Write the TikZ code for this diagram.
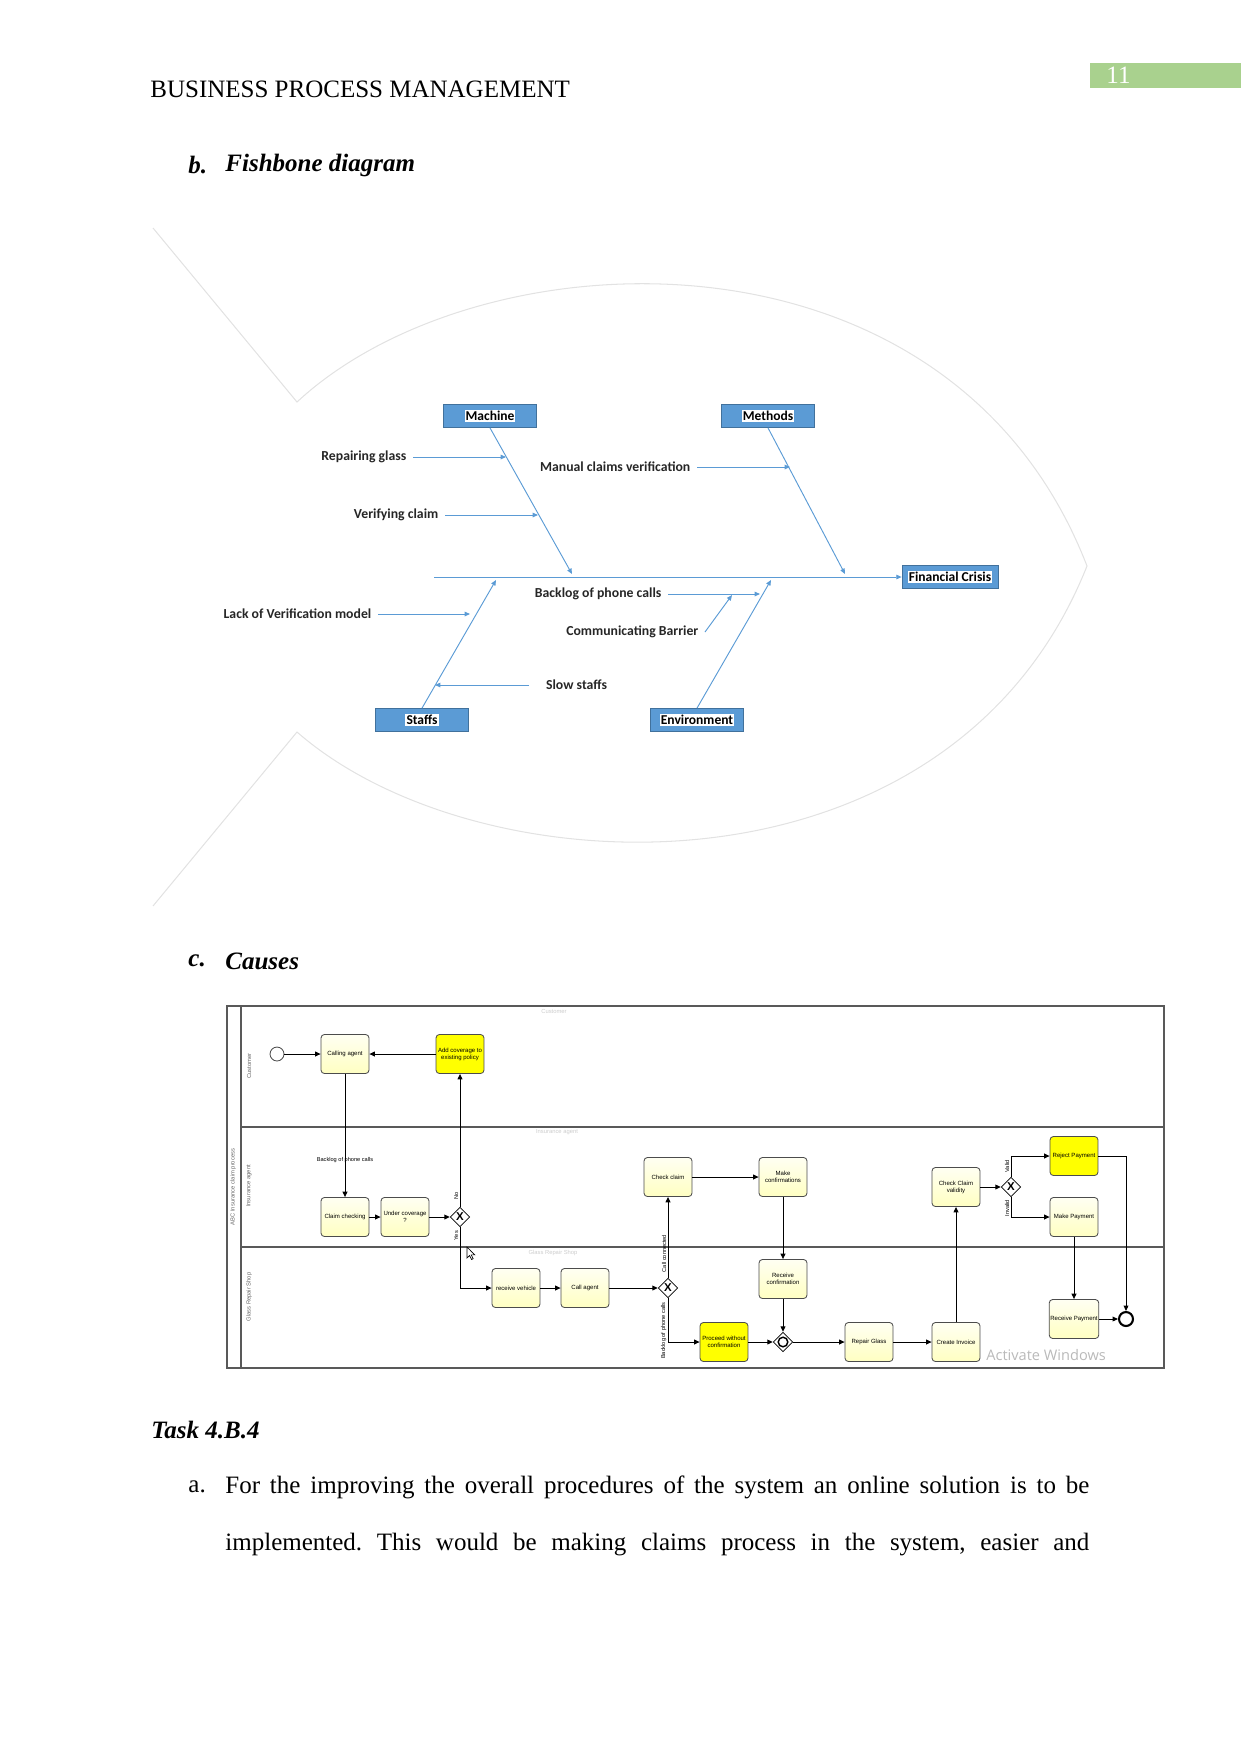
\documentclass[tikz,border=0pt]{standalone}
\usepackage{fontspec}
\setmainfont{Liberation Serif}
\newfontfamily\fishfont{Carlito}
\newfontfamily\flowfont{Liberation Sans}
\newfontfamily\winfont{Open Sans}
\usetikzlibrary{arrows.meta,positioning,calc,shapes.geometric}
\definecolor{boneblue}{HTML}{5B9BD5}
\definecolor{bonedark}{HTML}{41719C}
\definecolor{pagegreen}{HTML}{A9D18E}
\definecolor{fishline}{HTML}{E2E2E2}
\newcommand{\onwhite}[1]{{\setlength{\fboxsep}{0.5pt}\colorbox{white}{#1}}}
\frenchspacing

\begin{document}
\begin{tikzpicture}[x=0.48pt, y=-0.48pt,
  hdr/.style={anchor=west, inner sep=0pt, font=\fontsize{12}{14}\selectfont},
  subhd/.style={anchor=west, inner sep=0pt, font=\fontsize{12}{14}\selectfont\bfseries\itshape},
  bone/.style={rectangle, draw=bonedark, fill=boneblue, minimum width=45pt, minimum height=11pt, inner sep=0pt, font=\fishfont\fontsize{6.5}{7}\selectfont\bfseries},
  cause/.style={inner xsep=3pt, inner ysep=1pt, text=black!85, font=\fishfont\fontsize{6.6}{7}\selectfont\bfseries},
  barr/.style={-{Triangle[length=2.6pt,width=2.2pt]}, boneblue, line width=0.45pt},
  task/.style={rectangle, rounded corners=1.6pt, draw=gray!60!black, top color=yellow!5, bottom color=yellow!24, minimum width=23pt, minimum height=18.7pt, inner sep=0.5pt, align=center, font=\flowfont\fontsize{2.9}{3.3}\selectfont},
  hot/.style={task, top color=yellow, bottom color=yellow},
  gate/.style={diamond, draw, fill=white, aspect=1, inner sep=0pt, minimum size=9.4pt, font=\flowfont\fontsize{5.5}{6}\selectfont\bfseries},
  flow/.style={-{Triangle[length=2.6pt,width=2.3pt]}, line width=0.45pt},
  flbl/.style={inner sep=0.6pt, font=\flowfont\fontsize{2.7}{3}\selectfont},
  lane/.style={text=black!60, inner sep=0pt, rotate=90, font=\flowfont\fontsize{2.8}{3}\selectfont},
  ghost/.style={text=gray!40, inner sep=0pt, font=\flowfont\fontsize{2.8}{3}\selectfont}
]
  \useasboundingbox (0,0) rectangle (1241,1754);
  % page head
  \node[hdr] (head) at (150,89) {BUSINESS PROCESS MANAGEMENT};
  \fill[pagegreen] (1090,63) rectangle (1241,88);
  \node[hdr, text=white] (pno) at (1106,75) {11};
  \node[subhd] (bmark) at (188,165) {b.};
  \node[subhd] (fishhd) at (225,165) {Fishbone diagram};

  % fish outline
  \draw[fishline, line width=0.5pt] (153,228) -- (297,402)
    .. controls (480,232) and (950,212) .. (1087,566)
    .. controls (950,910) and (480,892) .. (297,732) -- (153,906);

  % heads and spine
  \node[bone] (mach) at (490,416) {\onwhite{Machine}};
  \node[bone] (meth) at (768,416) {\onwhite{Methods}};
  \node[bone] (staf) at (422,720) {\onwhite{Staffs}};
  \node[bone] (envi) at (697,720) {\onwhite{Environment}};
  \node[bone, minimum width=46pt] (cris) at (950,577) {\onwhite{Financial Crisis}};
  \coordinate (tail) at (434,577);
  \draw[barr] (tail) -- (cris.west);
  \coordinate (mj) at (572,574);
  \coordinate (tj) at (845,574);
  \coordinate (sj) at (496,580);
  \coordinate (ej) at (771,580);
  \draw[barr] (mach.south) -- (mj);
  \draw[barr] (meth.south) -- (tj);
  \draw[barr] (staf.north) -- (sj);
  \draw[barr] (envi.north) -- (ej);

  % causes
  \node[cause, anchor=east] (rg) at (413,457) {Repairing glass};
  \node[cause, anchor=east] (vc) at (445,515) {Verifying claim};
  \node[cause, anchor=east] (mcv) at (697,467) {Manual claims verification};
  \node[cause, anchor=east] (bpc) at (668,594) {Backlog of phone calls};
  \node[cause, anchor=east] (cb) at (705,632) {Communicating Barrier};
  \node[cause, anchor=east] (lvm) at (378,614) {Lack of Verification model};
  \node[cause, anchor=west, inner xsep=8pt] (ss) at (529,685) {Slow staffs};
  \coordinate (m1) at (506,457);
  \coordinate (m2) at (538,515);
  \coordinate (t1) at (790,467);
  \coordinate (e1) at (760,594);
  \coordinate (b1) at (732,595);
  \coordinate (s1) at (470,614);
  \coordinate (s2) at (435,685);
  \draw[barr] (rg.east) -- (m1);
  \draw[barr] (vc.east) -- (m2);
  \draw[barr] (mcv.east) -- (t1);
  \draw[barr] (bpc.east) -- (e1);
  \draw[barr] (cb.east) -- (b1);
  \draw[barr] (lvm.east) -- (s1);
  \draw[barr] (ss.west) -- (s2);

  \node[subhd] (cmark) at (188,961) {c.};
  \node[subhd] (causehd) at (225,961) {Causes};

  % pool and lanes
  \draw[gray!70!black, line width=0.5pt] (227,1006) rectangle (1164,1368);
  \draw[gray!70!black, line width=0.5pt] (241,1006) -- (241,1368);
  \draw[gray!70!black, line width=0.5pt] (241,1127) -- (1164,1127);
  \draw[gray!70!black, line width=0.5pt] (241,1247) -- (1164,1247);
  \node[lane] (pool) at (233,1187) {ABC Insurance claim process};
  \node[lane] (lcust) at (249,1066) {Customer};
  \node[lane] (lagent) at (249,1186) {Insurance agent};
  \node[lane] (lshop) at (249,1297) {Glass Repair Shop};
  \node[ghost] (gcust) at (554,1011) {Customer};
  \node[ghost] (gagent) at (557,1132) {Insurance agent};
  \node[ghost] (gshop) at (553,1253) {Glass Repair Shop};

  % activities
  \node[circle, draw=gray!60!black, fill=white, minimum size=6.7pt, inner sep=0pt] (start) at (277,1054) {};
  \node[task] (call) at (345,1054) {Calling agent};
  \node[hot] (addcov) at (460,1054) {Add coverage to\\existing policy};
  \node[task] (claim) at (345,1217) {Claim checking};
  \node[task] (under) at (405,1217) {Under coverage\\?};
  \node[gate] (gw1) at (460,1217) {X};
  \node[task] (check) at (668,1177) {Check claim};
  \node[task] (make) at (783,1177) {Make\\confirmations};
  \node[task] (valid) at (956,1187) {Check Claim\\validity};
  \node[gate] (gw4) at (1011,1187) {X};
  \node[hot] (reject) at (1074,1156) {Reject Payment};
  \node[task] (mpay) at (1074,1217) {Make Payment};
  \node[task] (recv) at (516,1288) {receive vehicle};
  \node[task] (cagent) at (585,1288) {Call agent};
  \node[gate] (gw2) at (668,1288) {X};
  \node[task] (rconf) at (783,1279) {Receive\\confirmation};
  \node[hot] (proceed) at (724,1342) {Proceed without\\confirmation};
  \node[gate] (gw3) at (783,1342) {};
  \draw[line width=0.7pt] (gw3.center) circle (2.3pt);
  \node[task] (repair) at (869,1342) {Repair Glass};
  \node[task] (invoice) at (956,1342) {Create Invoice};
  \node[task] (rpay) at (1074,1319) {Receive Payment};
  \node[circle, draw, line width=1pt, fill=white, minimum size=6.7pt, inner sep=0pt] (endev) at (1126,1319) {};

  % sequence flows
  \draw[flow] (start) -- (call);
  \draw[flow] (addcov) -- (call);
  \draw[flow] (call) -- node[flbl, pos=0.7] {Backlog of phone calls} (claim);
  \draw[flow] (claim) -- (under);
  \draw[flow] (under) -- (gw1);
  \draw[flow] (gw1) -- node[flbl, rotate=90, above, pos=0.08] {No} (addcov);
  \draw[flow] (gw1.south) |- node[flbl, rotate=90, above, pos=0.07] {Yes} (recv);
  \draw[flow] (recv) -- (cagent);
  \draw[flow] (cagent) -- (gw2);
  \draw[flow] (gw2) -- node[flbl, rotate=90, above, pos=0.3] {Call connected} (check);
  \draw[flow] (gw2.south) |- node[flbl, rotate=90, above, pos=0.37] {Backlog of phone calls} (proceed);
  \draw[flow] (check) -- (make);
  \draw[flow] (make) -- (rconf);
  \draw[flow] (rconf) -- (gw3);
  \draw[flow] (proceed) -- (gw3);
  \draw[flow] (gw3) -- (repair);
  \draw[flow] (repair) -- (invoice);
  \draw[flow] (invoice) -- (valid);
  \draw[flow] (valid) -- (gw4);
  \draw[flow] (gw4.north) |- node[flbl, rotate=90, above, pos=0.25] {Valid} (reject);
  \draw[flow] (gw4.south) |- node[flbl, rotate=90, above, pos=0.28] {Invalid} (mpay);
  \draw[flow] (mpay) -- (rpay);
  \draw[flow] (rpay) -- (endev);
  \draw[flow] (reject.east) -| (endev.north);

  % screen leftovers
  \draw[fill=white, line width=0.3pt] (467,1247) -- ++(0,11) -- ++(2.6,-2.5) -- ++(2,4) -- ++(1.6,-0.8) -- ++(-2,-3.8) -- ++(3.6,0) -- cycle;
  \node[text=gray!55, font=\winfont\fontsize{7}{8}\selectfont, anchor=west, inner sep=0pt] (actwin) at (986,1355) {Activate Windows};

  % body text
  \node[subhd] (taskhd) at (151,1430) {Task 4.B.4};
  \node[hdr] (amark) at (188,1487) {a.};
  \node[hdr] (lineone) at (225,1487) {\makebox[414.7pt][s]{For the improving the overall procedures of the system an online solution is to be}};
  \node[hdr] (linetwo) at (225,1545) {\makebox[414.7pt][s]{implemented. This would be making claims process in the system, easier and}};
\end{tikzpicture}
\end{document}
